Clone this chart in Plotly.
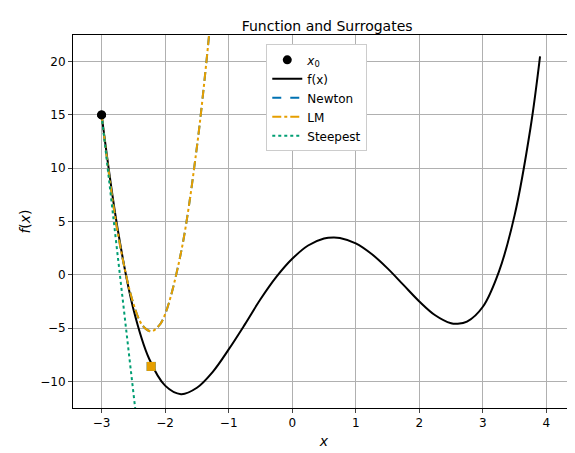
import plotly.graph_objects as go

# values
x0 = [-3.0]
y0 = [15.0]

fx_x = [-3.0, -2.75, -2.5, -2.25, -2.0, -1.75, -1.5, -1.25, -1.0, -0.75, -0.5, -0.25, 0.0,
        0.25, 0.5, 0.65, 0.75, 1.0, 1.25, 1.5, 1.75, 2.0, 2.25, 2.5, 2.6, 2.75, 3.0, 3.25,
        3.5, 3.75, 3.9]
fx_y = [15.0, 4.4, -3.2, -7.9, -10.4, -11.2, -10.6, -9.1, -7.0, -4.7, -2.3, -0.2, 1.5,
        2.75, 3.4, 3.5, 3.45, 2.95, 1.95, 0.6, -0.95, -2.5, -3.8, -4.55, -4.6, -4.4, -3.0, 0.25,
        5.6, 13.8, 20.5]

quad_x = [-3.0, -2.75, -2.5, -2.35, -2.22, -2.1, -2.0, -1.75, -1.5, -1.3]
quad_y = [15.0, 4.1, -2.7, -4.8, -5.3, -4.8, -3.7, 2.1, 12.0, 23.0]

steep_x = [-3.0, -2.47]
steep_y = [15.0, -12.6]

step_x = [-2.22]
step_y = [-8.6]

BLUE, ORANGE, GREEN = "#0072B2", "#E69F00", "#009E73"

fig = go.Figure()
fig.add_trace(go.Scatter(x=x0, y=y0, mode="markers", name="<i>x</i><sub>0</sub>",
                         marker=dict(color="black", size=9)))
fig.add_trace(go.Scatter(x=fx_x, y=fx_y, mode="lines", name="f(x)",
                         line=dict(color="black", width=2, shape="spline", smoothing=1)))
fig.add_trace(go.Scatter(x=quad_x, y=quad_y, mode="lines", name="Newton",
                         line=dict(color=BLUE, width=2, dash="dash", shape="spline")))
fig.add_trace(go.Scatter(x=quad_x, y=quad_y, mode="lines", name="LM",
                         line=dict(color=ORANGE, width=2, dash="dashdot", shape="spline")))
fig.add_trace(go.Scatter(x=steep_x, y=steep_y, mode="lines", name="Steepest",
                         line=dict(color=GREEN, width=2, dash="dot")))
fig.add_trace(go.Scatter(x=step_x, y=step_y, mode="markers", showlegend=False,
                         marker=dict(color=BLUE, symbol="square", size=9)))
fig.add_trace(go.Scatter(x=step_x, y=step_y, mode="markers", showlegend=False,
                         marker=dict(color=ORANGE, symbol="square", size=9)))
fig.add_trace(go.Scatter(x=x0, y=y0, mode="markers", showlegend=False,
                         marker=dict(color="black", size=9)))

axis = dict(showgrid=True, gridcolor="#b0b0b0", zeroline=False, showline=True,
            linecolor="black", mirror=True, ticks="outside", ticklen=4,
            tickfont=dict(size=12, color="black"))
fig.update_layout(
    width=575, height=453,
    title=dict(text="Function and Surrogates", x=0.555, y=0.97, font=dict(size=14, color="black")),
    font=dict(family="DejaVu Sans", color="black"),
    plot_bgcolor="white", paper_bgcolor="white",
    margin=dict(l=65, r=8, t=27, b=53),
    xaxis=dict(axis, range=[-3.45, 4.45], dtick=1, title=dict(text="<i>x</i>", standoff=6)),
    yaxis=dict(axis, range=[-12.5, 22.5], tickvals=[-10, -5, 0, 5, 10, 15, 20],
               title=dict(text="<i>f</i>(<i>x</i>)", standoff=6)),
    legend=dict(x=0.385, y=0.975, xanchor="left", yanchor="top", bgcolor="white",
                bordercolor="#cccccc", borderwidth=1, font=dict(size=12)),
)
fig.write_html("out.html")
